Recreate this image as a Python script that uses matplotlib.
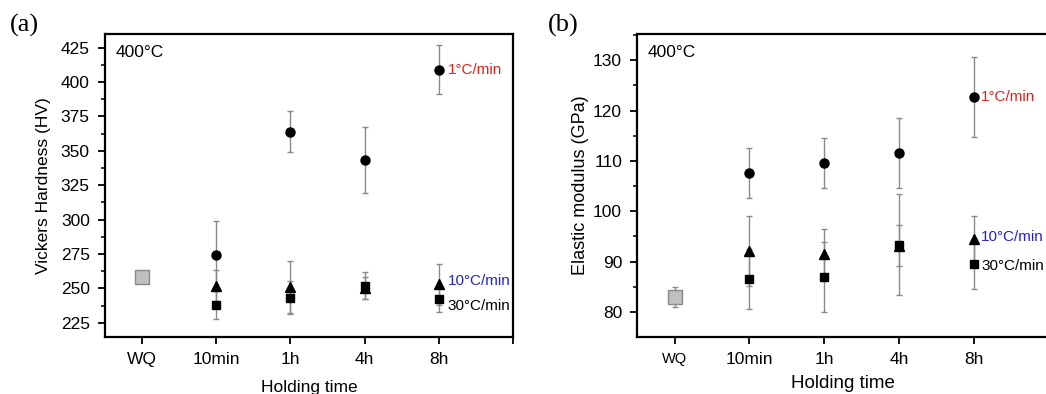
import matplotlib

matplotlib.use("Agg")
import matplotlib.pyplot as plt
from matplotlib.ticker import MultipleLocator

plt.rcParams["font.family"] = ["Liberation Sans", "DejaVu Sans"]

times = ["WQ", "10min", "1h", "4h", "8h"]

# (a) Vickers hardness
hv_wq = 258
hv_1 = [274, 364, 343, 409]
hv_1_err = [25, 15, 24, 18]
hv_10 = [252, 251, 250, 253]
hv_10_err = [11, 19, 8, 15]
hv_30 = [238, 243, 252, 242]
hv_30_err = [10, 12, 10, 9]

# (b) elastic modulus
em_wq = 83.0
em_wq_err = 2.0
em_1 = [107.6, 109.6, 111.6, 122.7]
em_1_err = [5.0, 5.0, 7.0, 8.0]
em_10 = [92.1, 91.5, 93.2, 94.5]
em_10_err = [7.0, 5.0, 4.0, 4.6]
em_30 = [86.6, 87.0, 93.4, 89.5]
em_30_err = [6.0, 7.0, 10.0, 5.0]

ERR = dict(fmt="none", ecolor="#8a8a8a", elinewidth=1.0, capsize=2.5, capthick=1.0, zorder=2)


def style_axes(ax, tick_size):
    for sp in ax.spines.values():
        sp.set_linewidth(1.6)
    ax.set_xlim(-0.5, 5)
    ax.set_xticks(range(6))
    ax.set_xticklabels(times + [""])
    ax.tick_params(axis="both", direction="out", width=1.3, length=5, labelsize=tick_size, pad=6)
    ax.tick_params(axis="y", which="minor", direction="out", width=1.1, length=3)
    ax.tick_params(top=False, right=False)


def draw_series(ax, xs, y1, e1, y10, e10, y30, e30):
    ax.errorbar(xs, y1, yerr=e1, **ERR)
    ax.errorbar(xs, y10, yerr=e10, **ERR)
    ax.errorbar(xs, y30, yerr=e30, **ERR)
    ax.plot(xs, y1, "o", color="black", ms=6.5, ls="none", zorder=3)
    ax.plot(xs, y10, "^", color="black", ms=6.5, ls="none", zorder=3)
    ax.plot(xs, y30, "s", color="black", ms=5.5, ls="none", zorder=3)


fig = plt.figure(figsize=(10.46, 3.94), dpi=100)
xs = [1, 2, 3, 4]

# panel (a)
ax1 = fig.add_axes([0.1004, 0.1447, 0.39, 0.769])
draw_series(ax1, xs, hv_1, hv_1_err, hv_10, hv_10_err, hv_30, hv_30_err)
ax1.plot([0], [hv_wq], "s", ms=10, mfc="#c0c0c0", mec="#8a8a8a", mew=1.0, zorder=3)
ax1.set_ylim(214.6, 435)
ax1.yaxis.set_major_locator(MultipleLocator(25))
ax1.yaxis.set_minor_locator(MultipleLocator(12.5))
style_axes(ax1, 12.5)
ax1.set_ylabel("Vickers Hardness (HV)", fontsize=12.5, labelpad=7)
ax1.set_xlabel("Holding time", fontsize=12.5, labelpad=9)
ax1.text(0.025, 0.965, "400°C", transform=ax1.transAxes, fontsize=12.5, va="top", ha="left")
ax1.text(4.12, hv_1[3], "1°C/min", color="#e0201b", fontsize=11, va="center")
ax1.text(4.12, 255.5, "10°C/min", color="#2222d0", fontsize=11, va="center")
ax1.text(4.12, 237.1, "30°C/min", color="black", fontsize=11, va="center")
fig.text(0.009, 0.935, "(a)", family=["Liberation Serif"], fontsize=19, va="center")

# panel (b)
ax2 = fig.add_axes([0.6093, 0.1454, 0.393, 0.7683])
draw_series(ax2, xs, em_1, em_1_err, em_10, em_10_err, em_30, em_30_err)
ax2.errorbar([0], [em_wq], yerr=[em_wq_err], **ERR)
ax2.plot([0], [em_wq], "s", ms=10, mfc="#c0c0c0", mec="#8a8a8a", mew=1.0, zorder=3)
ax2.set_ylim(75.1, 135.2)
ax2.yaxis.set_major_locator(MultipleLocator(10))
ax2.yaxis.set_minor_locator(MultipleLocator(5))
style_axes(ax2, 12.5)
ax2.get_xticklabels()[0].set_fontsize(10.5)
ax2.set_ylabel("Elastic modulus (GPa)", fontsize=13, labelpad=3)
ax2.set_xlabel("Holding time", fontsize=13.5, labelpad=6)
ax2.text(0.025, 0.965, "400°C", transform=ax2.transAxes, fontsize=12.5, va="top", ha="left")
ax2.text(4.1, em_1[3], "1°C/min", color="#e0201b", fontsize=11, va="center")
ax2.text(4.1, 94.8, "10°C/min", color="#2222d0", fontsize=11, va="center")
ax2.text(4.1, 89.2, "30°C/min", color="black", fontsize=11, va="center")
fig.text(0.524, 0.935, "(b)", family=["Liberation Serif"], fontsize=19, va="center")

fig.savefig("out.png", dpi=100)
